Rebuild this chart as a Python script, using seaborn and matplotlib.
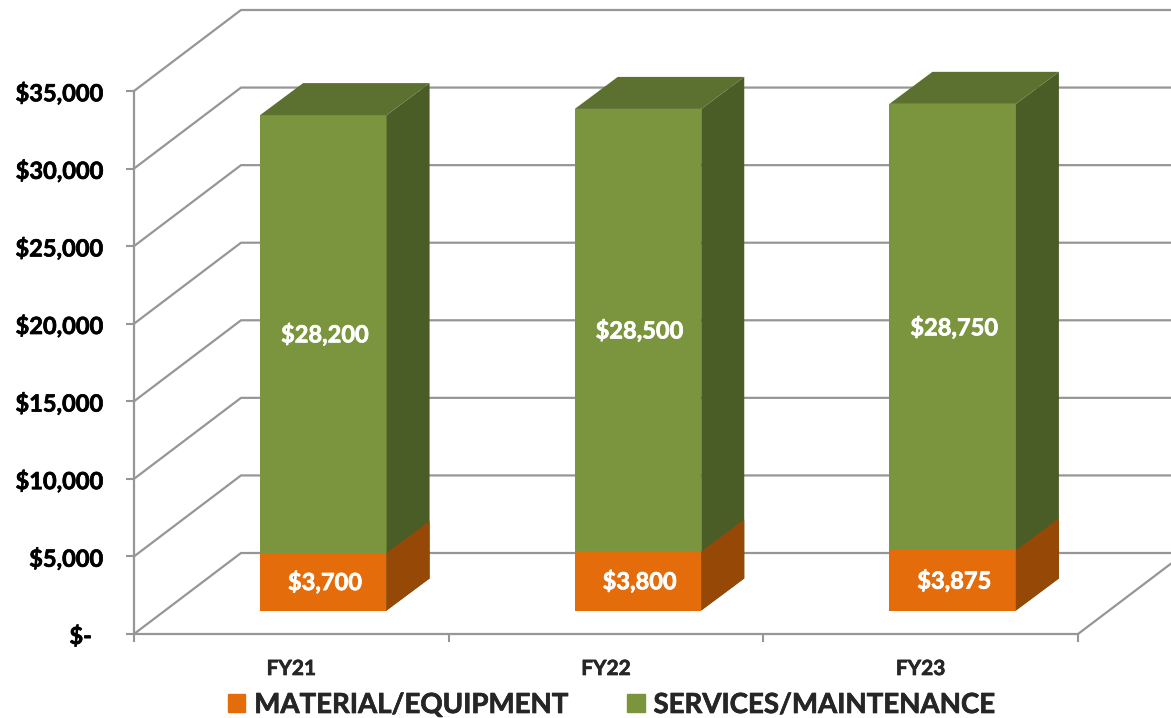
import matplotlib
matplotlib.use("Agg")
import matplotlib.pyplot as plt
from matplotlib.patches import Patch, Polygon
from matplotlib.patheffects import withStroke
from matplotlib.text import Text
import pandas as pd
import seaborn as sns

years = ["FY21", "FY22", "FY23"]
material = [3700, 3800, 3875]
services = [28200, 28500, 28750]
y_ticks = [0, 5000, 10000, 15000, 20000, 25000, 30000, 35000]
y_labels = ["$-  ", "$5,000", "$10,000", "$15,000", "$20,000", "$25,000", "$30,000", "$35,000"]

W, H = 1171, 718
GRID = "#969696"
GREEN = "#7A953D"
GREEN_TOP = "#5C7030"
GREEN_SIDE = "#4B5D27"
ORANGE = "#E46C0A"
ORANGE_SIDE = "#964806"

sns.set_style("white")
plt.rcParams["font.family"] = ["Lato", "DejaVu Sans"]
plt.rcParams["font.weight"] = "bold"

df = pd.DataFrame({"year": years, "material": material, "services": services})
df["total"] = df["material"] + df["services"]

fig = plt.figure(figsize=(W / 100, H / 100), dpi=100)
# front plane of the fake 3d box, the bars sit a bit deeper in
ax = fig.add_axes([134 / W, (H - 634) / H, 944 / W, 543 / H])
ax_bar = fig.add_axes([166 / W, (H - 610.5) / H, 944 / W, 543.5 / H])
ax_bar.patch.set_alpha(0)

cat_px = 944 / 3
val_px = 543 / 35000
back_x = 107 / cat_px
back_y = 81 / val_px
depth_x = 43 / cat_px
depth_y = 32 / val_px

ax.set_xlim(-0.5, 2.5)
ax.set_ylim(0, 35000)
for v in y_ticks:
    ax.plot([-0.5, -0.5 + back_x, 2.5 + back_x], [v, v + back_y, v + back_y],
            color=GRID, lw=1.6, clip_on=False, zorder=1)
ax.plot([2.5, 2.5 + back_x], [0, back_y], color=GRID, lw=1.6, clip_on=False, zorder=1)

ax.set_yticks(y_ticks)
ax.set_yticklabels(y_labels, fontsize=17, fontweight="bold", color="black")
ax.set_xticks([-0.5, 0.5, 1.5, 2.5])
ax.set_xticklabels([])
ax.set_xticks(range(len(years)), years, minor=True)
for t in ax.get_xticklabels(minor=True):
    t.set_fontsize(15)
    t.set_fontweight("bold")
ax.tick_params(axis="y", length=6, width=1.5, color=GRID, pad=16, left=True)
ax.tick_params(axis="x", which="major", length=6, width=1.5, color=GRID, bottom=True)
ax.tick_params(axis="x", which="minor", length=0, pad=18)
sns.despine(ax=ax)
for side in ["left", "bottom"]:
    ax.spines[side].set_color(GRID)
    ax.spines[side].set_linewidth(1.6)

sns.barplot(data=df, x="year", y="total", color=GREEN, width=0.402, saturation=1, linewidth=0, ax=ax_bar)
sns.barplot(data=df, x="year", y="material", color=ORANGE, width=0.402, saturation=1, linewidth=0, ax=ax_bar)
ax_bar.set_xlim(-0.5, 2.5)
ax_bar.set_ylim(0, 35000)
ax_bar.axis("off")

n = len(years)
for bar in ax_bar.patches[:n]:
    x0 = bar.get_x()
    x1 = x0 + bar.get_width()
    top = bar.get_height()
    ax_bar.add_patch(Polygon([(x1, 0), (x1 + depth_x, depth_y), (x1 + depth_x, top + depth_y), (x1, top)],
                             color=GREEN_SIDE, lw=0, clip_on=False))
    ax_bar.add_patch(Polygon([(x0, top), (x1, top), (x1 + depth_x, top + depth_y), (x0 + depth_x, top + depth_y)],
                             color=GREEN_TOP, lw=0, clip_on=False))
for bar in ax_bar.patches[n:2 * n]:
    x1 = bar.get_x() + bar.get_width()
    top = bar.get_height()
    ax_bar.add_patch(Polygon([(x1, 0), (x1 + depth_x, depth_y), (x1 + depth_x, top + depth_y), (x1, top)],
                             color=ORANGE_SIDE, lw=0, clip_on=False))

for i in range(n):
    ax_bar.text(i + 0.005, material[i] / 2, f"${material[i]:,}", color="white", fontsize=17,
                fontweight="bold", ha="center", va="center")
    ax_bar.text(i + 0.005, material[i] + services[i] / 2, f"${services[i]:,}", color="white", fontsize=17,
                fontweight="bold", ha="center", va="center")

handles = [Patch(color=ORANGE, label="MATERIAL/EQUIPMENT"), Patch(color=GREEN, label="SERVICES/MAINTENANCE")]
leg = fig.legend(handles=handles, loc="center", bbox_to_anchor=(612 / W, (H - 705) / H), ncol=2, frameon=False,
                 prop={"size": 19.9, "weight": "bold"}, handlelength=0.62, handleheight=0.62,
                 handletextpad=0.32, columnspacing=2.13, borderpad=0)

# the original text is a bit heavier than lato bold
for t in fig.findobj(Text):
    t.set_path_effects([withStroke(linewidth=0.5, foreground=t.get_color())])

fig.savefig("out.png", dpi=100, facecolor="white")
